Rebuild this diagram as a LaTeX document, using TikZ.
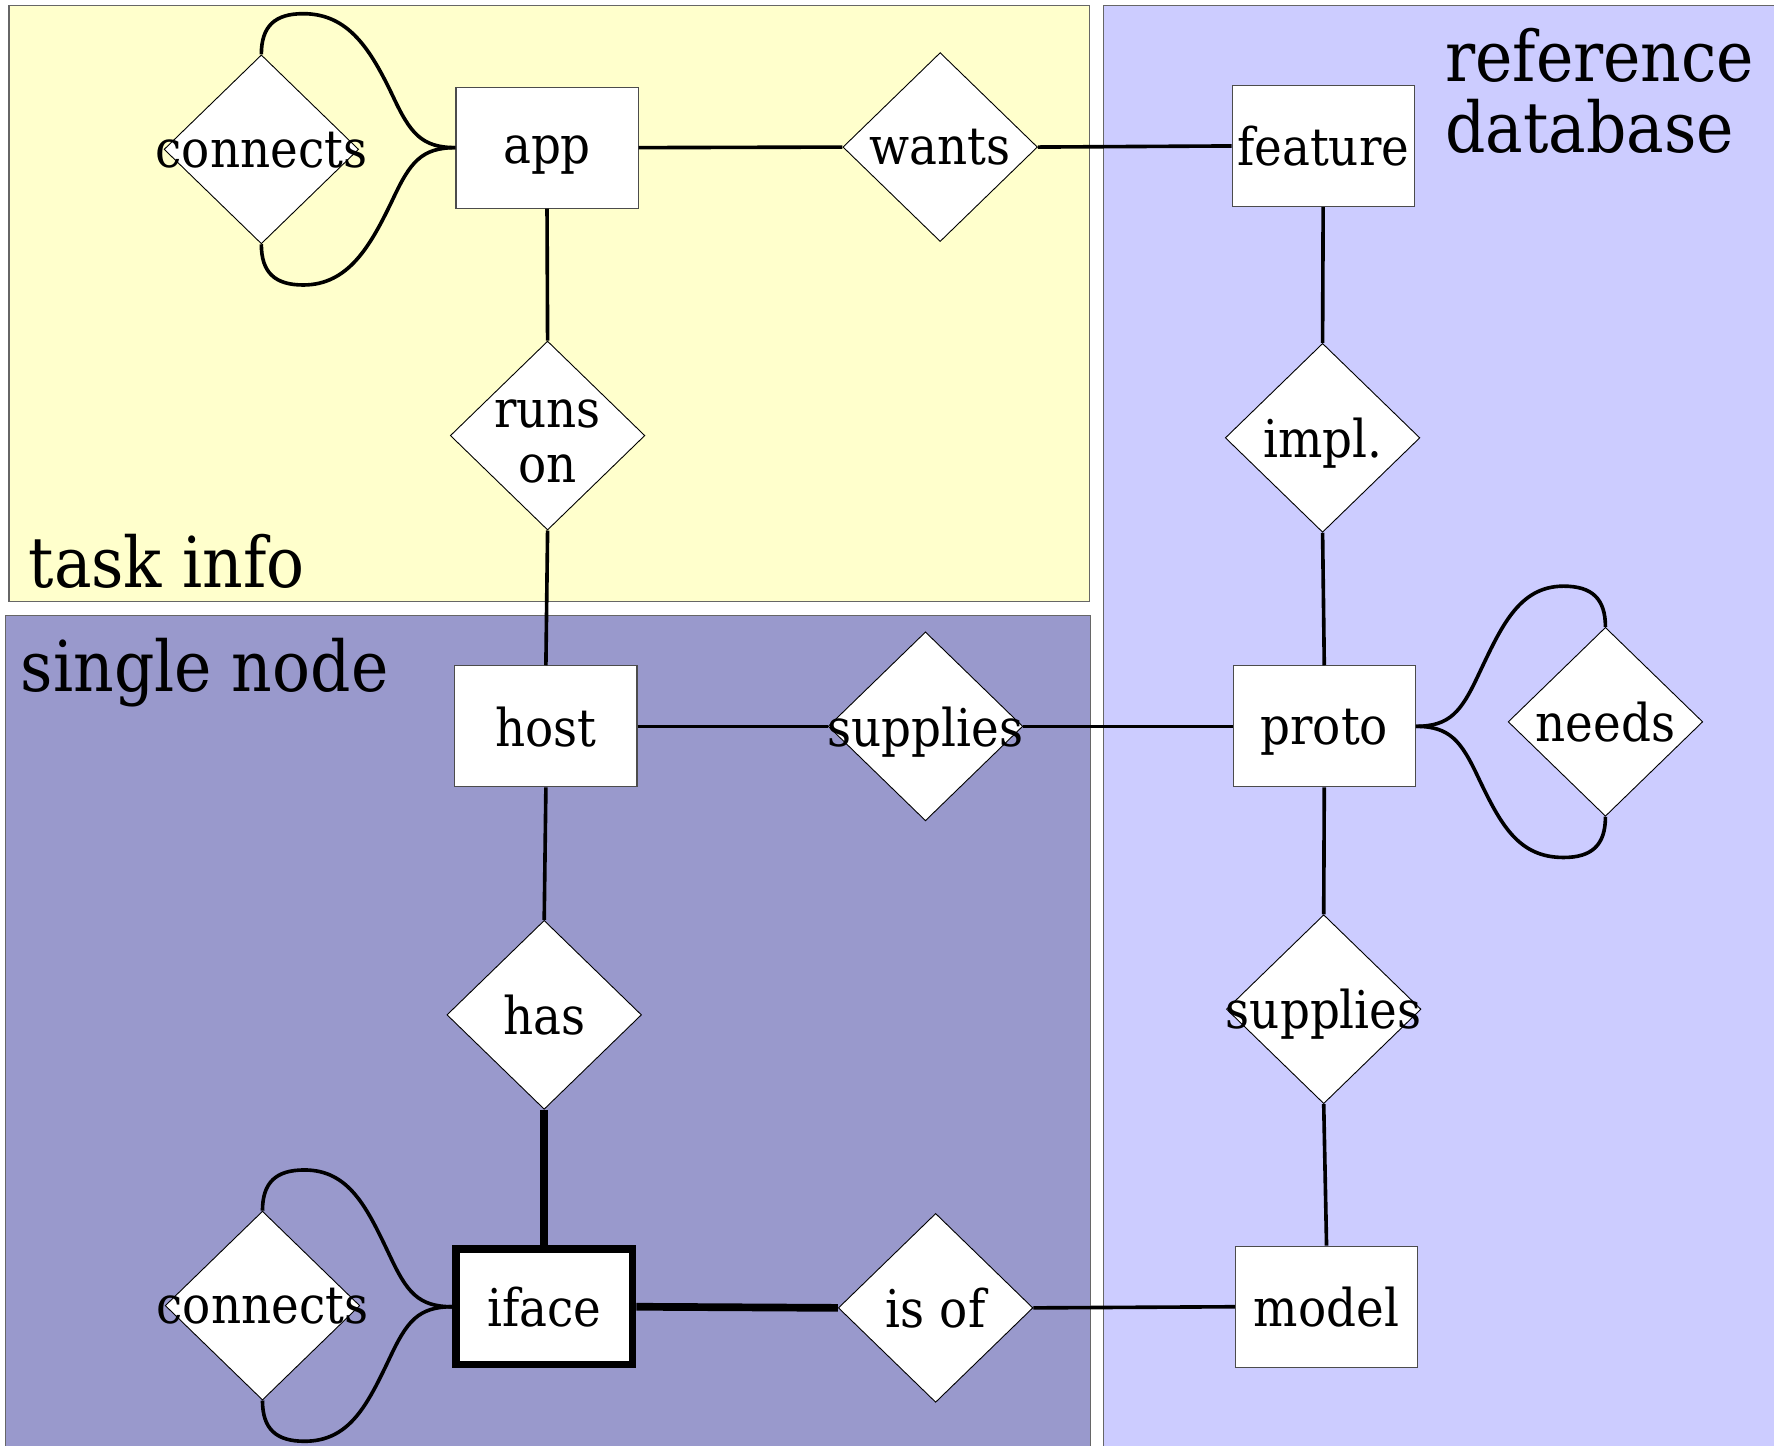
\documentclass[tikz,border=0pt]{standalone}
\usepackage{fontspec}
\setmainfont{DejaVu Serif Condensed}
\usetikzlibrary{shapes.geometric,calc}
\definecolor{taskbg}{HTML}{FFFFCC}
\definecolor{nodebg}{HTML}{9999CC}
\definecolor{refbg}{HTML}{CCCCFF}
% self-loop: #1 start anchor, #2 end anchor, #3 x-sign, #4 y-sign
\newcommand\erloop[4]{%
  \draw[conn] (#1) .. controls +({#3*(-30)},0) and +({#3*15},{#4*32}) ..
    ($(#1)+({#3*(-55)},{#4*(-45)})$) .. controls +({#3*(-20)},{#4*(-42)}) and +({#3*40},0) ..
    ($(#2)+({#3*37},{#4*(-36)})$) .. controls +({#3*(-25)},0) and +(0,{#4*(-25)}) .. (#2);}
\begin{document}
\begin{tikzpicture}[x=0.5pt,y=-0.5pt,
  region/.style={draw=black!60, line width=0.5pt},
  txt/.style={font=\fontsize{23}{24}\selectfont},
  big/.style={font=\fontsize{31}{32}\selectfont, inner sep=0pt},
  ent/.style={rectangle, draw=black!70, fill=white, line width=0.5pt,
    minimum width=80.5pt, minimum height=53.5pt, inner sep=0pt, text depth=0pt, txt},
  weakent/.style={ent, draw=black, line width=3.4pt, minimum width=78pt, minimum height=51pt},
  rel/.style={diamond, draw=black, fill=white, line width=0.4pt,
    minimum width=86pt, minimum height=83.5pt, inner sep=0pt},
  every label/.style={txt, inner sep=0pt, align=center, text depth=0pt},
  conn/.style={line width=1.6pt},
  heavy/.style={line width=3.4pt}]
\useasboundingbox (0,0) rectangle (1568,1278);
\clip (0,0) rectangle (1568,1278);
% regions
\filldraw[region, fill=taskbg] (8,5) rectangle (963,532);
\filldraw[region, fill=nodebg] (5,544) rectangle (964,1300);
\filldraw[region, fill=refbg] (975,5) rectangle (1600,1300);
\node[big, anchor=base west] (ltask) at (25,519) {task info};
\node[big, anchor=base west] (lnode) at (18,611) {single node};
\node[big, anchor=base west] (lref1) at (1277,72) {reference};
\node[big, anchor=base west] (lref2) at (1277,135) {database};
% entities
\node[ent] (app) at (483.5,130.5) {\raisebox{-1.5pt}{app}};
\node[ent] (feature) at (1169.5,129) {feature};
\node[ent] (host) at (482.5,642) {host};
\node[ent] (proto) at (1170.5,642) {proto};
\node[weakent] (iface) at (481,1155) {iface};
\node[ent] (model) at (1172.5,1155) {model};
% relationships
\node[rel, label=center:connects] (con1) at (231,132) {};
\node[rel, label=center:wants] (wants) at (831,130) {};
\node[rel, label={[yshift=-2.5pt]center:runs\\on}] (runson) at (484,385) {};
\node[rel, label=center:impl.] (impl) at (1169,387) {};
\node[rel, label=center:supplies] (sup1) at (818,642) {};
\node[rel, label=center:needs] (needs) at (1419,638) {};
\node[rel, label=center:has] (has) at (481,897) {};
\node[rel, label=center:supplies] (sup2) at (1170,892) {};
\node[rel, label=center:connects] (con2) at (232,1154) {};
\node[rel, label=center:is of] (isof) at (827,1156) {};
% connectors
\draw[conn] (app.east) -- (wants.west);
\draw[conn] (wants.east) -- (feature.west);
\draw[conn] (app.south) -- (runson.north);
\draw[conn] (runson.south) -- (host.north);
\draw[conn] (feature.south) -- (impl.north);
\draw[conn] (impl.south) -- (proto.north);
\draw[conn] (host.east) -- (sup1.west);
\draw[conn] (sup1.east) -- (proto.west);
\draw[conn] (host.south) -- (has.north);
\draw[heavy] (has.south) -- (iface.north);
\draw[heavy] (iface.east) -- (isof.west);
\draw[conn] (isof.east) -- (model.west);
\draw[conn] (proto.south) -- (sup2.north);
\draw[conn] (sup2.south) -- (model.north);
% self loops
\erloop{app.west}{con1.north}{1}{1}
\erloop{app.west}{con1.south}{1}{-1}
\erloop{iface.west}{con2.north}{1}{1}
\erloop{iface.west}{con2.south}{1}{-1}
\erloop{proto.east}{needs.north}{-1}{1}
\erloop{proto.east}{needs.south}{-1}{-1}
\end{tikzpicture}
\end{document}
